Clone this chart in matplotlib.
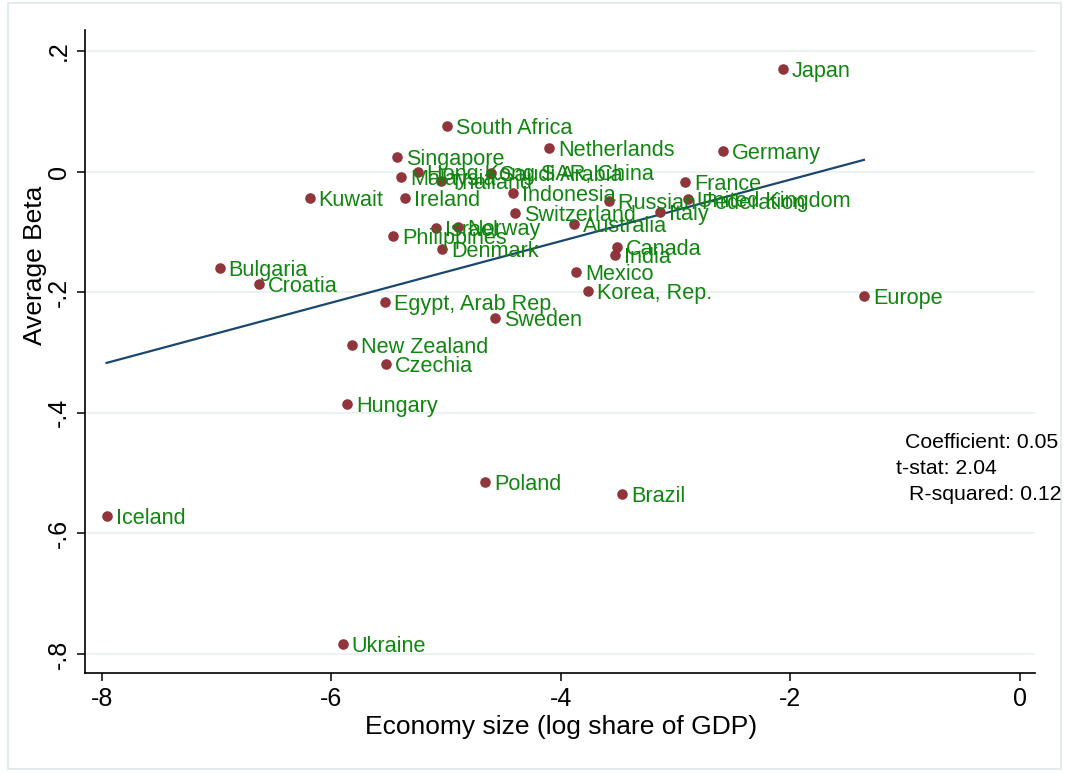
import numpy as np
import matplotlib
matplotlib.use("Agg")
import matplotlib.pyplot as plt
from matplotlib.patches import Rectangle

plt.rcParams['font.family'] = ['Liberation Sans', 'DejaVu Sans']

countries = ["Japan", "South Africa", "Netherlands", "Germany", "Singapore",
             "Hong Kong SAR, China", "Saudi Arabia", "Malaysia", "Thailand",
             "Kuwait", "Ireland", "Indonesia", "Switzerland", "Israel", "Norway",
             "Philippines", "Denmark", "Australia", "Russian Federation", "Canada",
             "India", "France", "United Kingdom", "Italy", "Mexico", "Korea, Rep.",
             "Europe", "Bulgaria", "Croatia", "Egypt, Arab Rep.", "Sweden",
             "New Zealand", "Czechia", "Hungary", "Poland", "Brazil", "Iceland",
             "Ukraine"]
size_log_gdp = [-2.066, -4.996, -4.106, -2.589, -5.432,
                -5.244, -4.612, -5.391, -5.048,
                -6.190, -5.362, -4.418, -4.397, -5.086, -4.897,
                -5.464, -5.036, -3.886, -3.583, -3.511,
                -3.531, -2.921, -2.892, -3.133, -3.871, -3.766,
                -1.360, -6.975, -6.635, -5.536, -4.577,
                -5.824, -5.527, -5.867, -4.664, -3.470, -7.960,
                -5.902]
avg_beta = [0.171, 0.076, 0.040, 0.035, 0.025,
            0.000, -0.002, -0.009, -0.016,
            -0.043, -0.043, -0.035, -0.069, -0.093, -0.091,
            -0.107, -0.128, -0.086, -0.049, -0.125,
            -0.139, -0.017, -0.045, -0.067, -0.166, -0.198,
            -0.207, -0.159, -0.186, -0.216, -0.242,
            -0.287, -0.319, -0.385, -0.515, -0.534, -0.571,
            -0.783]

xticks = [-8, -6, -4, -2, 0]
xtick_labels = ["-8", "-6", "-4", "-2", "0"]
yticks = [-0.8, -0.6, -0.4, -0.2, 0, 0.2]
ytick_labels = ["-.8", "-.6", "-.4", "-.2", "0", ".2"]
stats_lines = ["Coefficient: 0.05", "t-stat: 2.04", "R-squared: 0.12"]

W, H = 1065, 774
fig = plt.figure(figsize=(W / 100, H / 100), dpi=100)
fig.patch.set_facecolor('white')
fig.add_artist(Rectangle((8 / W, 5 / H), (W - 12) / W, (H - 8) / H,
                         transform=fig.transFigure, fill=False,
                         edgecolor='#e3ebee', linewidth=1.5))

ax = fig.add_axes([85 / W, 1 - 673 / H, (1035 - 85) / W, (673 - 30) / H])
ax.set_xlim(-8.148, 0.131)
ax.set_ylim(-0.8315, 0.235)

for s in ['top', 'right']:
    ax.spines[s].set_visible(False)
for s in ['left', 'bottom']:
    ax.spines[s].set_linewidth(1.2)
    ax.spines[s].set_color('black')

ax.set_yticks(yticks)
ax.set_yticklabels(ytick_labels, rotation=90, va='center')
ax.set_xticks(xticks)
ax.set_xticklabels(xtick_labels)
ax.tick_params(axis='both', direction='out', length=6, width=1.1,
               labelsize=18, pad=4)
ax.yaxis.grid(True, color='#eaf1f3', linewidth=1.3)
ax.set_axisbelow(True)

x = np.array(size_log_gdp)
y = np.array(avg_beta)
slope, intercept = np.polyfit(x, y, 1)
xl = np.array([x.min(), x.max()])
ax.plot(xl, intercept + slope * xl, color='#1a476f', linewidth=1.6, zorder=2)

ax.scatter(x, y, s=58, color='#90353b', zorder=3, linewidths=0)
for name, xi, yi in zip(countries, x, y):
    ax.annotate(name, (xi, yi), xytext=(6.5, 0), textcoords='offset points',
                va='center_baseline', ha='left', fontsize=15.6,
                color='#108510', zorder=4)

ax.set_xlabel("Economy size (log share of GDP)", fontsize=19)
ax.xaxis.set_label_coords((561 - 85) / 950, -(727 - 673) / 643)
ax.xaxis.label.set_va('center')
ax.set_ylabel("Average Beta", fontsize=19)
ax.yaxis.set_label_coords((35 - 85) / 950, (673 - 265) / 643)
ax.yaxis.label.set_va('center')

stat_pos = [(905, 441), (896, 467), (909, 493)]
for txt, (px, py) in zip(stats_lines, stat_pos):
    fig.text(px / W, 1 - py / H, txt, fontsize=15.3, ha='left',
             va='center_baseline')

fig.savefig("out.png", dpi=100)
